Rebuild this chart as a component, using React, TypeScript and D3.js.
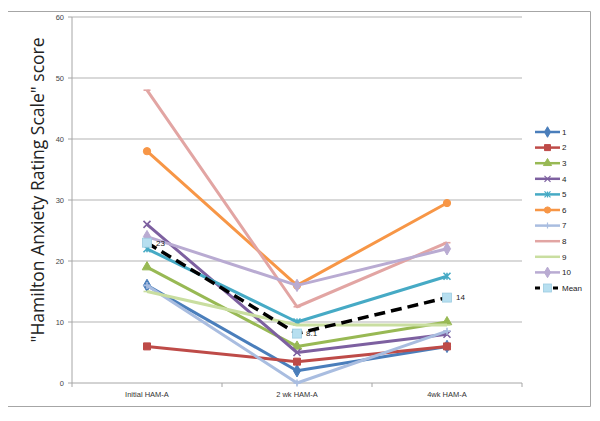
import * as d3 from "d3";

const categories = ["Initial HAM-A", "2 wk HAM-A", "4wk HAM-A"];
const seriesNames = ["1", "2", "3", "4", "5", "6", "7", "8", "9", "10"];
const s1 = [16, 2, 6];
const s2 = [6, 3.5, 6];
const s3 = [19, 6, 10];
const s4 = [26, 5, 8];
const s5 = [22, 10, 17.5];
const s6 = [38, 16, 29.5];
const s7 = [16, 0, 8.5];
const s8 = [48, 12.5, 23];
const s9 = [15, 9.5, 9.5];
const s10 = [24, 16, 22];
const meanValues = [23, 8.1, 14];
const meanLabels = ["23", "8.1", "14"];
const yTicks = [0, 10, 20, 30, 40, 50, 60];

const seriesValues = [s1, s2, s3, s4, s5, s6, s7, s8, s9, s10];
const colors = [
  "#4a7ebb", "#be4b48", "#98b954", "#7d60a0", "#46aac5",
  "#f79646", "#a9bde0", "#e2a5a3", "#c9dea0", "#b9abd2",
];
const markers = ["diamond", "square", "triangle", "x", "star", "circle", "plus", "dash", "dash", "diamond"];

const markerPath = (kind: string, s: number) => {
  switch (kind) {
    case "diamond":
      return d3.symbol(d3.symbolDiamond, s * s * 0.9)()!;
    case "square":
      return d3.symbol(d3.symbolSquare, s * s)()!;
    case "triangle":
      return d3.symbol(d3.symbolTriangle, s * s * 0.8)()!;
    case "circle":
      return d3.symbol(d3.symbolCircle, s * s * 0.85)()!;
    case "x": {
      const h = s / 2;
      return `M${-h},${-h}L${h},${h}M${-h},${h}L${h},${-h}`;
    }
    case "star": {
      const h = s / 2;
      return `M${-h},${-h}L${h},${h}M${-h},${h}L${h},${-h}M0,${-h}L0,${h}`;
    }
    case "plus": {
      const h = s / 2;
      return `M${-h},0L${h},0M0,${-h}L0,${h}`;
    }
    case "dash": {
      const h = s / 2;
      return `M${-h},0L${h},0`;
    }
  }
  return "";
};

const isStroke = (k: string) => k === "x" || k === "star" || k === "plus" || k === "dash";

export default function App() {
  const width = 600;
  const height = 421;
  const x = d3.scaleBand<string>().domain(categories).range([72, 522]);
  const y = d3.scaleLinear().domain([0, 60]).range([383, 17]);
  const cx = (c: string) => x(c)! + x.bandwidth() / 2;
  const line = d3
    .line<number>()
    .x((_, i) => cx(categories[i]))
    .y((d) => y(d));

  const legendY = d3.scalePoint<string>().domain([...seriesNames, "Mean"]).range([132, 288]);
  const font = "'Liberation Sans', Arial, sans-serif";

  return (
    <svg width={width} height={height} style={{ position: "absolute", left: 0, top: 0, background: "#fff" }}>
      {/* frame */}
      <path d="M8,11.5H590.5V406.5H8" fill="none" stroke="#a6a6a6" strokeWidth={1} />

      {/* gridlines */}
      {yTicks.slice(1).map((t) => (
        <line key={t} x1={72} x2={522} y1={y(t)} y2={y(t)} stroke="#b3b3b3" strokeWidth={1} />
      ))}
      {/* y axis */}
      <line x1={72} x2={72} y1={y(60)} y2={y(0)} stroke="#a6a6a6" />
      {yTicks.map((t) => (
        <g key={t}>
          <line x1={68} x2={72} y1={y(t)} y2={y(t)} stroke="#a6a6a6" />
          <text x={64} y={y(t)} dy="0.35em" textAnchor="end" fontSize={7.5} fill="#444" fontFamily={font}>
            {t}
          </text>
        </g>
      ))}
      {/* x axis */}
      <line x1={72} x2={522} y1={y(0)} y2={y(0)} stroke="#a6a6a6" />
      {[...categories.map((c) => x(c)!), 522].map((v, i) => (
        <line key={i} x1={v} x2={v} y1={y(0)} y2={y(0) + 4} stroke="#a6a6a6" />
      ))}
      {categories.map((c) => (
        <text key={c} x={cx(c)} y={397} textAnchor="middle" fontSize={7.5} fill="#333" fontFamily={font}>
          {c}
        </text>
      ))}

      {/* axis title */}
      <text
        transform={`translate(44,190) rotate(-90)`}
        textAnchor="middle"
        fontSize={17.5}
        fill="#222"
        fontFamily="'Open Sans', 'Noto Sans', sans-serif"
      >
        "Hamilton Anxiety Rating Scale" score
      </text>

      {/* series */}
      {seriesValues.map((vals, si) => (
        <g key={si}>
          <path d={line(vals)!} fill="none" stroke={colors[si]} strokeWidth={3} strokeLinejoin="round" />
          {vals.map((v, i) => (
            <path
              key={i}
              d={markerPath(markers[si], 7)}
              transform={`translate(${cx(categories[i])},${y(v)})`}
              fill={isStroke(markers[si]) ? "none" : colors[si]}
              stroke={colors[si]}
              strokeWidth={isStroke(markers[si]) ? 1.6 : 1}
            />
          ))}
        </g>
      ))}

      {/* mean */}
      <path d={line(meanValues)!} fill="none" stroke="#000" strokeWidth={3.5} strokeDasharray="11,6" />
      {meanValues.map((v, i) => (
        <g key={i}>
          <rect
            x={cx(categories[i]) - 4.5}
            y={y(v) - 4.5}
            width={9}
            height={9}
            fill="#b7dff0"
            stroke="#9ccbe0"
            strokeWidth={0.8}
          />
          <text x={cx(categories[i]) + 9} y={y(v)} dy="0.35em" fontSize={8} fill="#222" fontFamily={font}>
            {meanLabels[i]}
          </text>
        </g>
      ))}

      {/* legend */}
      {seriesNames.map((n, si) => {
        const ly = legendY(n)!;
        return (
          <g key={n}>
            <line x1={535} x2={560} y1={ly} y2={ly} stroke={colors[si]} strokeWidth={2.5} />
            <path
              d={markerPath(markers[si], 6)}
              transform={`translate(547.5,${ly})`}
              fill={isStroke(markers[si]) ? "none" : colors[si]}
              stroke={colors[si]}
              strokeWidth={isStroke(markers[si]) ? 1.2 : 1}
            />
            <text x={562} y={ly} dy="0.35em" fontSize={8} fill="#222" fontFamily={font}>
              {n}
            </text>
          </g>
        );
      })}
      <line x1={535} x2={560} y1={legendY("Mean")!} y2={legendY("Mean")!} stroke="#000" strokeWidth={3} strokeDasharray="5,4" />
      <rect x={543.5} y={legendY("Mean")! - 4} width={8} height={8} fill="#b7dff0" stroke="#9ccbe0" strokeWidth={0.8} />
      <text x={562} y={legendY("Mean")!} dy="0.35em" fontSize={8} fill="#222" fontFamily={font}>
        Mean
      </text>
    </svg>
  );
}
